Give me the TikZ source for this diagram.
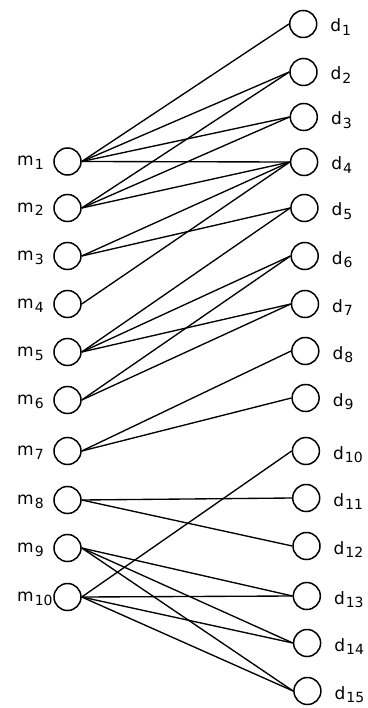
\documentclass[tikz,border=0pt]{standalone}
\usepackage{fontspec}
\setmainfont{DejaVu Sans}
\newcommand\mdlabel[2]{#1\kern1pt\raisebox{-3.5pt}{\fontsize{14}{14}\selectfont #2}}
\begin{document}
\begin{tikzpicture}[x=1pt,y=-1pt,
  vertex/.style={circle,draw,line width=1.5pt,minimum size=27pt,inner sep=0pt},
  link/.style={line width=1.35pt},
  lbl/.style={anchor=base west,inner sep=0pt,font=\fontsize{17}{17}\selectfont}]
\useasboundingbox (0,0) rectangle (367,708);
% left column: m-vertices
\foreach \i/\y in {1/161.5,2/208,3/256,4/304,5/352,6/400,7/451,8/500,9/548,10/597}{
  \node[vertex] (m\i) at (67.5,\y) {};
  \node[lbl] (ml\i) at (17,\y+4.5) {\mdlabel{m}{\i}};
}
% right column: d-vertices
\foreach \i/\y in {1/24,2/72,3/117,4/162,5/208,6/256,7/304,8/351,9/398,10/451,11/498,12/546,13/596,14/643,15/691}{
  \node[vertex] (d\i) at ({303.2+0.3*(\i-1)},\y) {};
  \node[lbl] (dl\i) at ({330.2+0.3*(\i-1)},\y+8) {\mdlabel{d}{\i}};
}
% edges
\foreach \a/\b in {1/1,1/2,1/3,1/4,2/2,2/3,2/4,3/4,3/5,4/4,5/5,5/6,5/7,6/6,6/7,
                   7/8,7/9,8/11,8/12,9/13,9/14,9/15,10/10,10/13,10/14,10/15}{
  \draw[link] (m\a.east) -- (d\b.west);
}
\end{tikzpicture}
\end{document}
